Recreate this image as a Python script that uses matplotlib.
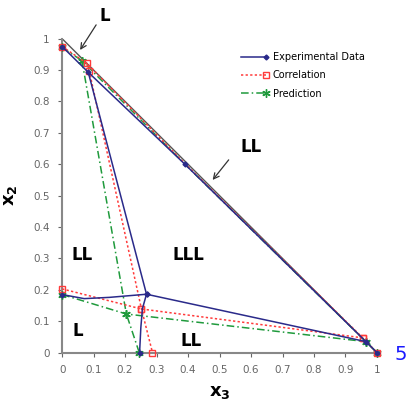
import matplotlib.pyplot as plt
import numpy as np
from matplotlib.legend_handler import HandlerLine2DCompound
from matplotlib.lines import Line2D

nan = np.nan

# Experimental tie lines / binodal curves (NaN separates segments)
x3_exp = [0, 0.083, 0.39, 0.965, 1.0, nan,
          0.083, 0.268, 0.965, nan,
          0, 0.07, 0.15, 0.268, nan,
          0.268, 0.255, 0.25, 0.246]
x2_exp = [0.975, 0.893, 0.6, 0.035, 0.0, nan,
          0.893, 0.186, 0.035, nan,
          0.185, 0.172, 0.176, 0.186, nan,
          0.186, 0.14, 0.08, 0.0]

# Correlation
x3_cor = [0, 0.078, 0.39, 0.955, 1.0, nan,
          0.078, 0.086, nan,
          0.086, 0.252, 0.287, nan,
          0, 0.252, 0.955]
x2_cor = [0.975, 0.922, 0.602, 0.047, 0.0, nan,
          0.922, 0.898, nan,
          0.898, 0.139, 0.0, nan,
          0.203, 0.139, 0.047]

# Prediction
x3_pre = [0, 0.063, 0.39, 0.965, 1.0, nan,
          0.063, 0.204, 0.245, nan,
          0, 0.204, 0.965]
x2_pre = [0.972, 0.93, 0.6, 0.035, 0.0, nan,
          0.93, 0.123, 0.0, nan,
          0.185, 0.123, 0.035]

ticks = [0, 0.1, 0.2, 0.3, 0.4, 0.5, 0.6, 0.7, 0.8, 0.9, 1]
tick_labels = ['0', '0.1', '0.2', '0.3', '0.4', '0.5', '0.6', '0.7', '0.8', '0.9', '1']

blue = '#2a2a8a'
red = '#ff3b3b'
green = '#1f9a3c'
gray = '#666666'


class EndMarkerHandler(HandlerLine2DCompound):
    # put the legend marker at the right end of the sample line
    def create_artists(self, legend, orig_handle, xdescent, ydescent,
                       width, height, fontsize, trans):
        artists = super().create_artists(legend, orig_handle, xdescent, ydescent,
                                         width, height, fontsize, trans)
        line, marker = artists
        marker.set_xdata([line.get_xdata()[-1]])
        return artists


exp_style = dict(color=blue, lw=1.1, ls='-', marker='D', ms=2.5, mfc=blue, mec=blue)
cor_style = dict(color=red, lw=1.1, ls=(0, (1.5, 1.5)), marker='s', ms=4.5,
                 mfc='none', mec=red, mew=1)
pre_style = dict(color=green, lw=1.1, ls=(0, (5, 2, 1, 2)), marker=(6, 2, 0), ms=6, mec=green)

fig = plt.figure(figsize=(4.17, 4.03), dpi=100)
ax = fig.add_axes([0.149, 0.125, 0.755, 0.779])

# edge of the composition triangle
ax.plot([0, 1], [1, 0], color='#555555', lw=1.0, zorder=1)

ax.plot(x3_pre, x2_pre, clip_on=False, zorder=3,
        markevery=[0, 1, 3, 4, 6, 7, 8, 10, 11, 12], **pre_style)
ax.plot(x3_cor, x2_cor, clip_on=False, zorder=3,
        markevery=[0, 1, 3, 4, 7, 10, 11, 13, 14, 15], **cor_style)
ax.plot(x3_exp, x2_exp, clip_on=False, zorder=4,
        markevery=[0, 1, 2, 3, 4, 7, 8, 10, 13, 18], **exp_style)

ax.set_xlim(0, 1)
ax.set_ylim(0, 1)
ax.set_xticks(ticks)
ax.set_xticklabels(tick_labels)
ax.set_yticks(ticks)
ax.set_yticklabels(tick_labels)
ax.tick_params(labelsize=7.5, colors=gray, length=3, width=0.8, pad=6)
for side in ('top', 'right'):
    ax.spines[side].set_visible(False)
for side in ('left', 'bottom'):
    ax.spines[side].set_color('#888888')
    ax.spines[side].set_linewidth(1.5)

ax.set_xlabel(r'$\mathbf{x_3}$', fontsize=13, labelpad=6)
ax.set_ylabel(r'$\mathbf{x_2}$', fontsize=13, labelpad=10)

handles = [Line2D([], [], **exp_style), Line2D([], [], **cor_style), Line2D([], [], **pre_style)]
labels = ['Experimental Data', 'Correlation', 'Prediction']
ax.legend(handles, labels, loc='upper left', bbox_to_anchor=(0.555, 0.97),
          frameon=False, fontsize=7, handlelength=2.6, handletextpad=0.7,
          labelspacing=0.85, borderaxespad=0, numpoints=1,
          handler_map={h: EndMarkerHandler() for h in handles})

# phase region labels
lab = dict(fontsize=12, fontweight='bold', ha='center', va='center')
ax.text(0.065, 0.31, 'LL', **lab)
ax.text(0.40, 0.31, 'LLL', **lab)
ax.text(0.05, 0.07, 'L', **lab)
ax.text(0.41, 0.037, 'LL', **lab)
ax.text(0.137, 1.073, 'L', clip_on=False, **lab)
ax.text(0.6, 0.655, 'LL', **lab)

arrow = dict(arrowstyle='->', color='#333333', lw=0.9, shrinkA=0, shrinkB=0)
ax.annotate('', xy=(0.057, 0.964), xytext=(0.108, 1.044), annotation_clip=False,
            arrowprops=arrow)
ax.annotate('', xy=(0.478, 0.55), xytext=(0.529, 0.614), arrowprops=arrow)

fig.text(0.96, 0.12, '5', color='#1a1aff', fontsize=14, ha='center', va='center')

fig.savefig('out.png', dpi=100)
